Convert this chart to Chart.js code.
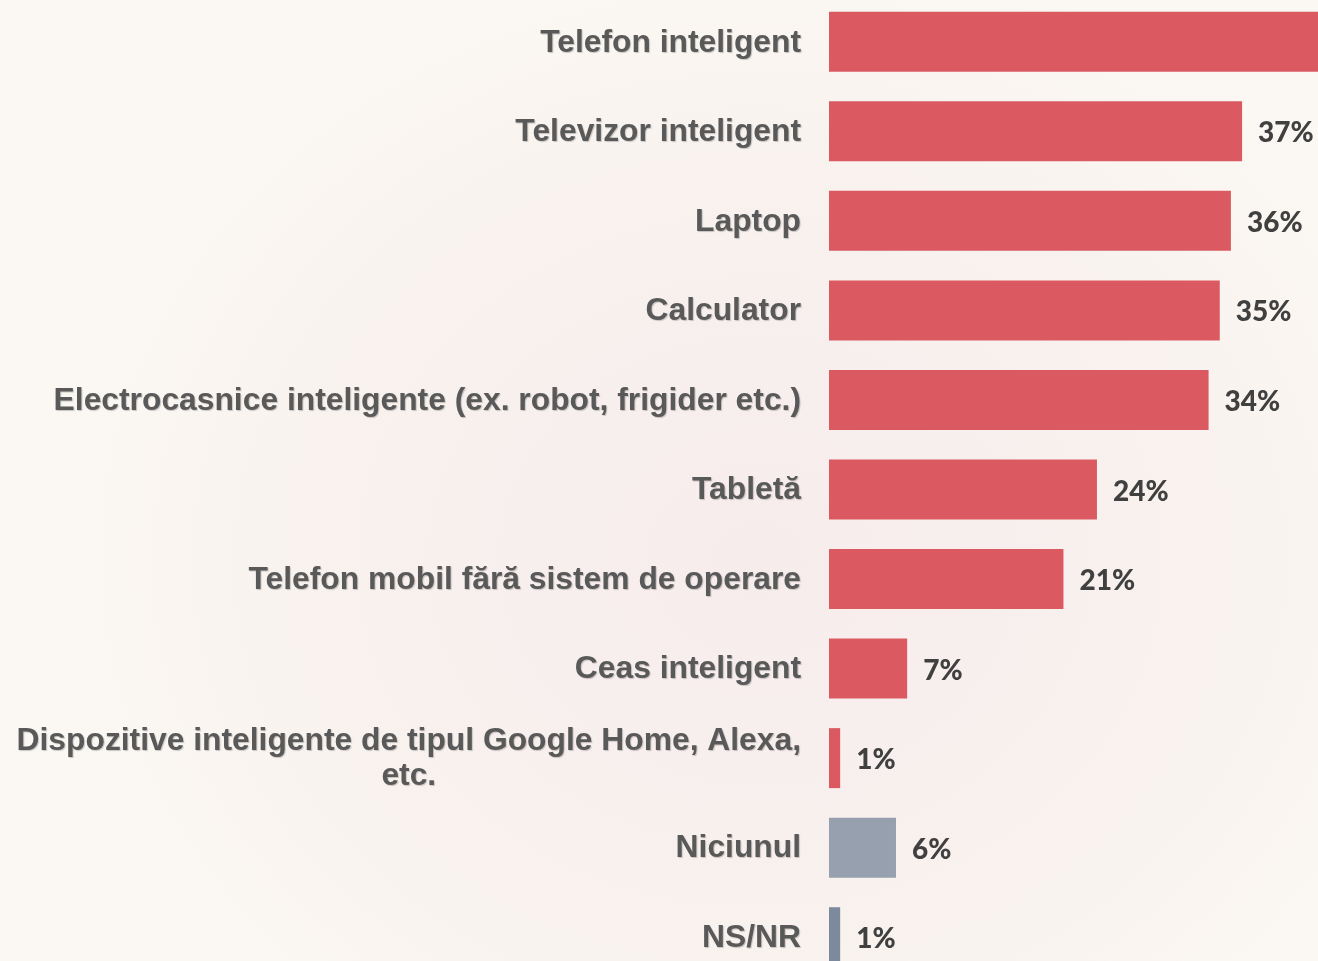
<!DOCTYPE html>
<html lang="ro">
<head>
<meta charset="utf-8">
<script src="https://cdn.jsdelivr.net/npm/chart.js@4/dist/chart.umd.min.js"></script>
<style>
  html, body { margin: 0; padding: 0; width: 1318px; height: 961px; overflow: hidden; }
  body { background: radial-gradient(ellipse 720px 620px at 760px 560px, #f6ecec 0%, #f8f1ee 55%, #fbf8f3 100%); }
  #wrap { position: absolute; left: 0; top: -3px; width: 1318px; height: 985px; }
</style>
</head>
<body>
<div id="wrap"><canvas id="chart" width="1318" height="985"></canvas></div>
<script>
// categorii + valori (%)
const categorii = [
  ['Telefon inteligent'],
  ['Televizor inteligent'],
  ['Laptop'],
  ['Calculator'],
  ['Electrocasnice inteligente (ex. robot, frigider etc.)'],
  ['Tabletă'],
  ['Telefon mobil fără sistem de operare'],
  ['Ceas inteligent'],
  ['Dispozitive inteligente de tipul Google Home, Alexa,', 'etc.'],
  ['Niciunul'],
  ['NS/NR']
];
const valori = [55, 37, 36, 35, 34, 24, 21, 7, 1, 6, 1];
const culori = ['#db5a62', '#db5a62', '#db5a62', '#db5a62', '#db5a62', '#db5a62',
                '#db5a62', '#db5a62', '#db5a62', '#96a0ae', '#7d8a9e'];

// etichete categorii (stanga) + valori (dupa bara)
const etichete = {
  id: 'etichete',
  afterDatasetsDraw(chart) {
    const ctx = chart.ctx;
    const y = chart.scales.y;
    const meta = chart.getDatasetMeta(0);
    ctx.save();
    ctx.textBaseline = 'middle';

    // etichete categorii, bloc aliniat dreapta, linii centrate
    ctx.font = 'bold 31.8px "Liberation Sans", Arial, sans-serif';
    ctx.fillStyle = '#595959';
    ctx.shadowColor = 'rgba(0,0,0,0.2)';
    ctx.shadowOffsetX = 1;
    ctx.shadowOffsetY = 1;
    ctx.shadowBlur = 1;
    ctx.textAlign = 'center';
    const dreapta = 801, lh = 35;
    categorii.forEach((linii, i) => {
      const cy = y.getPixelForValue(i) + 1;
      const w = Math.max(...linii.map(l => ctx.measureText(l).width));
      const cx = dreapta - w / 2;
      linii.forEach((l, k) => {
        ctx.fillText(l, cx, cy + (k - (linii.length - 1) / 2) * lh);
      });
    });

    // valori
    ctx.shadowColor = 'transparent';
    ctx.font = '900 28px Lato, "Open Sans", sans-serif';
    ctx.fillStyle = '#404040';
    ctx.textAlign = 'left';
    meta.data.forEach((bar, i) => {
      ctx.fillText(valori[i] + '%', bar.x + 16, bar.y + 2);
    });
    ctx.restore();
  }
};

new Chart(document.getElementById('chart').getContext('2d'), {
  type: 'bar',
  data: {
    labels: categorii,
    datasets: [{
      data: valori,
      backgroundColor: culori,
      barPercentage: 0.67,
      categoryPercentage: 1
    }]
  },
  options: {
    indexAxis: 'y',
    responsive: false,
    animation: false,
    devicePixelRatio: 1,
    layout: { padding: { left: 829, right: 0, top: 0, bottom: 0 } },
    plugins: { legend: { display: false }, tooltip: { enabled: false } },
    scales: {
      x: { display: false, min: 0, max: 43.8 },
      y: { display: false }
    }
  },
  plugins: [etichete]
});
</script>
</body>
</html>
